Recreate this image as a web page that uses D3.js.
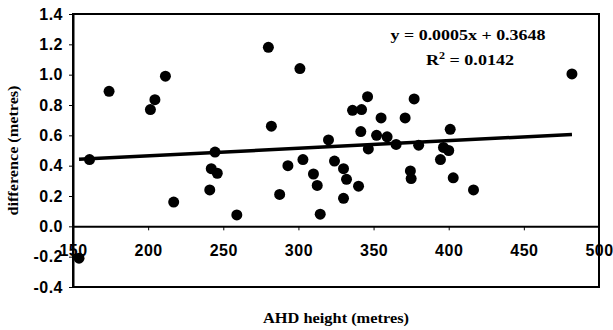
<!DOCTYPE html>
<html>
<head>
<meta charset="utf-8">
<script src="https://cdn.jsdelivr.net/npm/d3@7"></script>
<style>
	body { margin: 0; background: #fff; }
	.tick-lbl { font-family: "Liberation Sans", Arial, sans-serif; font-weight: bold; font-size: 16px; letter-spacing: 0.5px; fill: #000; }
	.title { font-family: "Liberation Serif", "Times New Roman", serif; font-weight: bold; font-size: 15px; fill: #000; }
</style>
</head>
<body>
<div class="chart"></div>
<script>
// AHD height (metres)
var heights = [154, 161, 174, 201.5, 204.5, 211.5, 217, 241, 242, 244.5, 246, 259,
	280, 282, 287.5, 293, 301, 303, 310, 312.5, 314.5, 320, 324, 330, 330, 332,
	336, 340, 341.5, 342, 346, 346.5, 352, 355, 359, 365, 371, 374.5, 375, 377,
	380, 394.5, 396.5, 400, 401, 403, 416.5, 482];
// difference (metres)
var diffs = [-0.21, 0.44, 0.89, 0.77, 0.835, 0.99, 0.16, 0.24, 0.38, 0.49, 0.35, 0.075,
	1.18, 0.66, 0.21, 0.40, 1.04, 0.44, 0.345, 0.27, 0.08, 0.57, 0.43, 0.38, 0.185, 0.31,
	0.765, 0.265, 0.625, 0.77, 0.855, 0.51, 0.60, 0.715, 0.59, 0.54, 0.715, 0.365, 0.315, 0.84,
	0.535, 0.44, 0.52, 0.50, 0.64, 0.32, 0.24, 1.005];

var xTicks = [150, 200, 250, 300, 350, 400, 450, 500];
var yTicks = [-0.4, -0.2, 0.0, 0.2, 0.4, 0.6, 0.8, 1.0, 1.2, 1.4];

var slope = 0.0005;
var intercept = 0.3648;
var eqLabel = "y = 0.0005x + 0.3648";
var r2Label = "0.0142";

var width = 613, height = 330;
var plotL = 73, plotR = 599, plotT = 14, plotB = 287;

var svg = d3.select(".chart")
	.append("svg")
		.attr("width", width)
		.attr("height", height);

var x = d3.scaleLinear().domain([150, 500]).range([plotL, plotR]);
var y = d3.scaleLinear().domain([-0.4, 1.4]).range([plotB, plotT]);

//plot frame
svg.append("rect")
	.attr("x", plotL)
	.attr("y", plotT)
	.attr("width", plotR - plotL)
	.attr("height", plotB - plotT)
	.attr("fill", "none")
	.attr("stroke", "#000")
	.attr("stroke-width", 2);

//y axis
var yAxis = svg.append("g")
	.attr("transform", "translate(" + plotL + ",0)")
	.call(d3.axisLeft(y).tickValues(yTicks).tickSize(4).tickSizeOuter(0).tickPadding(6)
		.tickFormat(function(d){ return d.toFixed(1); }));
yAxis.select(".domain").attr("stroke-width", 2);
yAxis.selectAll("text").attr("class", "tick-lbl").attr("font-family", null).attr("font-size", null);

//x axis sits on y = 0
var xAxis = svg.append("g")
	.attr("transform", "translate(0," + y(0) + ")")
	.call(d3.axisBottom(x).tickValues(xTicks).tickSize(4).tickSizeOuter(0).tickPadding(14));
xAxis.select(".domain").attr("stroke-width", 2);
xAxis.selectAll("text").attr("class", "tick-lbl").attr("font-family", null).attr("font-size", null);

//points
svg.selectAll("circle.pt")
	.data(heights)
	.enter()
		.append("circle")
			.attr("class", "pt")
			.attr("cx", function(d){ return x(d); })
			.attr("cy", function(d, i){ return y(diffs[i]); })
			.attr("r", 5.5)
			.attr("fill", "#000");

//trend line
var ext = d3.extent(heights);
svg.append("line")
	.attr("x1", x(ext[0]))
	.attr("y1", y(slope * ext[0] + intercept))
	.attr("x2", x(ext[1]))
	.attr("y2", y(slope * ext[1] + intercept))
	.attr("stroke", "#000")
	.attr("stroke-width", 3.5);

//equation
svg.append("text")
	.attr("class", "title")
	.attr("x", 468)
	.attr("y", 40)
	.attr("text-anchor", "middle")
	.attr("textLength", 155)
	.attr("lengthAdjust", "spacingAndGlyphs")
	.text(eqLabel);
var r2 = svg.append("text")
	.attr("class", "title")
	.attr("x", 470)
	.attr("y", 65)
	.attr("text-anchor", "middle")
	.attr("textLength", 88)
	.attr("lengthAdjust", "spacingAndGlyphs");
r2.append("tspan").text("R");
r2.append("tspan").attr("font-size", "10px").attr("dy", -6).text("2");
r2.append("tspan").attr("dy", 6).text(" = " + r2Label);

//axis titles
svg.append("text")
	.attr("class", "title")
	.attr("x", (plotL + plotR) / 2)
	.attr("y", 323)
	.attr("text-anchor", "middle")
	.attr("textLength", 146)
	.attr("lengthAdjust", "spacingAndGlyphs")
	.text("AHD height (metres)");
svg.append("text")
	.attr("class", "title")
	.attr("transform", "translate(18," + (plotT + plotB) / 2 + ") rotate(-90)")
	.attr("text-anchor", "middle")
	.attr("textLength", 130)
	.attr("lengthAdjust", "spacingAndGlyphs")
	.text("difference (metres)");
</script>
</body>
</html>
